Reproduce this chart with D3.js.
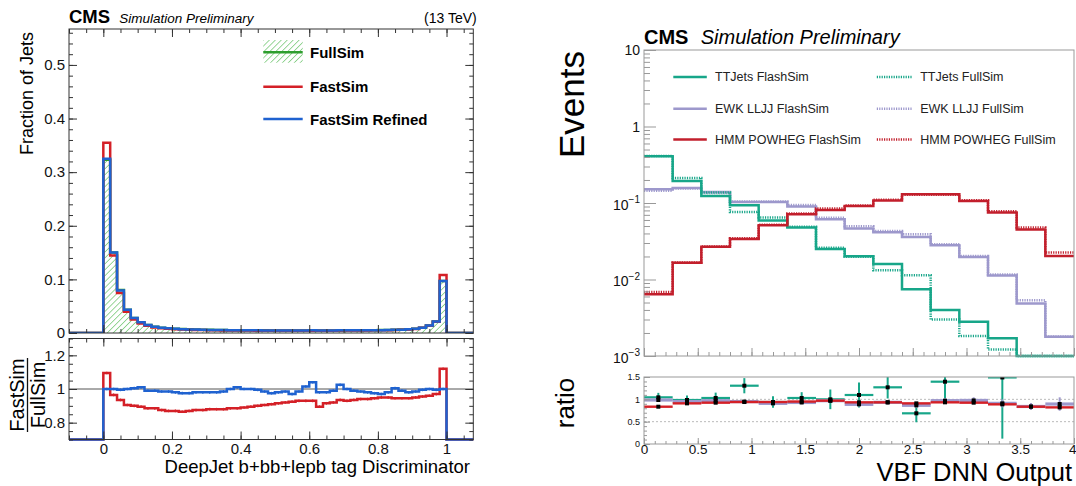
<!DOCTYPE html>
<html>
<head>
<meta charset="utf-8">
<script src="https://cdn.jsdelivr.net/npm/d3@7"></script>
<style>
  body { margin: 0; background: #fff; }
  svg { display: block; }
  text { font-family: "Liberation Sans", Arial, Helvetica, sans-serif; }
</style>
</head>
<body>
<svg id="chart" width="1076" height="486"></svg>
<script>
////////////////////////////////////////////////////////////////////////
// Data, left panel: DeepJet discriminator, 50 bins of 0.02 from 0 to 1

const discEdges = d3.range(0, 51).map(i => i / 50);

const fullSimFrac = [
  0.323, 0.150, 0.080, 0.0435, 0.028, 0.0198, 0.015, 0.0118, 0.0099, 0.0088,
  0.0080, 0.0074, 0.0069, 0.0065, 0.0062, 0.0059, 0.0057, 0.0055, 0.0053, 0.0052,
  0.0051, 0.0050, 0.0049, 0.0049, 0.0048, 0.0048, 0.0047, 0.0047, 0.0047, 0.0047,
  0.0047, 0.0047, 0.0047, 0.0048, 0.0048, 0.0049, 0.0049, 0.0050, 0.0051, 0.0052,
  0.0054, 0.0056, 0.0059, 0.0063, 0.0069, 0.0080, 0.0100, 0.0140, 0.0215, 0.097
];
const fastSimFrac = [
  0.355, 0.1445, 0.0747, 0.0395, 0.025, 0.0178, 0.0133, 0.0104, 0.0087, 0.0077,
  0.0070, 0.0064, 0.0060, 0.0057, 0.0054, 0.0052, 0.0050, 0.0048, 0.0047, 0.0046,
  0.0045, 0.0045, 0.0044, 0.0044, 0.0044, 0.0044, 0.0043, 0.0043, 0.0044, 0.0044,
  0.0044, 0.0042, 0.0043, 0.0044, 0.0045, 0.0046, 0.0046, 0.0047, 0.0048, 0.0049,
  0.0051, 0.0053, 0.0056, 0.0060, 0.0065, 0.0076, 0.0096, 0.0134, 0.0209, 0.108
];
const refinedFrac = [
  0.325, 0.150, 0.0795, 0.0435, 0.0282, 0.020, 0.0149, 0.0117, 0.0098, 0.0087,
  0.0078, 0.0072, 0.0067, 0.0064, 0.0061, 0.0058, 0.0056, 0.0054, 0.0053, 0.0053,
  0.0051, 0.0050, 0.0049, 0.0048, 0.0047, 0.0047, 0.0046, 0.0046, 0.0046, 0.0048,
  0.0049, 0.0046, 0.0046, 0.0048, 0.0049, 0.0049, 0.0049, 0.0049, 0.0050, 0.0051,
  0.0052, 0.0055, 0.0059, 0.0062, 0.0068, 0.0079, 0.0100, 0.0140, 0.0214, 0.097
];

// ratio panel (FastSim / FullSim)
const fastRatio = [
  1.095, 0.965, 0.935, 0.905, 0.900, 0.895, 0.885, 0.885, 0.875, 0.870,
  0.870, 0.865, 0.870, 0.875, 0.875, 0.880, 0.880, 0.880, 0.885, 0.885,
  0.890, 0.895, 0.900, 0.905, 0.910, 0.915, 0.920, 0.925, 0.930, 0.930,
  0.930, 0.895, 0.915, 0.920, 0.935, 0.930, 0.935, 0.940, 0.940, 0.945,
  0.950, 0.950, 0.945, 0.945, 0.945, 0.950, 0.955, 0.960, 0.970, 1.120
];
const refinedRatio = [
  1.000, 1.000, 0.995, 1.000, 1.005, 1.010, 0.990, 0.990, 0.985, 0.985,
  0.980, 0.975, 0.975, 0.980, 0.980, 0.980, 0.980, 0.985, 1.000, 1.010,
  1.000, 1.000, 0.995, 0.985, 0.975, 0.980, 0.985, 0.970, 0.985, 1.015,
  1.040, 0.980, 0.980, 0.990, 1.025, 1.000, 0.990, 0.985, 0.980, 0.975,
  0.970, 0.980, 1.005, 0.990, 0.980, 0.985, 0.995, 1.000, 0.995, 1.000
];

const leftYTicks = [0, 0.1, 0.2, 0.3, 0.4, 0.5];
const leftXTicks = [0, 0.2, 0.4, 0.6, 0.8, 1];
const leftRatioTicks = [0.8, 1, 1.2];
const leftLegend = ["FullSim", "FastSim", "FastSim Refined"];

////////////////////////////////////////////////////////////////////////
// Data, right panel: VBF DNN output, 15 bins from 0 to 4

const dnnEdges = d3.range(0, 16).map(i => i * 4 / 15);

const ttFlash  = [0.407, 0.194, 0.123, 0.0933, 0.0589, 0.0477, 0.0251, 0.0201, 0.0159, 0.00747, 0.00398, 0.0028, 0.0017, 0.0009, 0.0009];
const ttFull   = [0.410, 0.212, 0.137, 0.0763, 0.0645, 0.049, 0.026, 0.0199, 0.0132, 0.0114, 0.0030, 0.00182, 0.00122, 0.0005, 0.0005];
const ewkFlash = [0.151, 0.157, 0.139, 0.103, 0.103, 0.0897, 0.0612, 0.0463, 0.0415, 0.036, 0.028, 0.0197, 0.0113, 0.00486, 0.00178];
const ewkFull  = [0.145, 0.155, 0.135, 0.105, 0.105, 0.094, 0.064, 0.0497, 0.043, 0.039, 0.029, 0.0203, 0.0116, 0.00537, 0.0018];
const hmmFlash = [0.00643, 0.0165, 0.0267, 0.0339, 0.0512, 0.0712, 0.081, 0.0914, 0.108, 0.130, 0.130, 0.106, 0.0749, 0.045, 0.0203];
const hmmFull  = [0.00689, 0.0167, 0.0270, 0.0345, 0.052, 0.073, 0.085, 0.093, 0.110, 0.128, 0.128, 0.109, 0.078, 0.048, 0.0225];

// ratio panel (null = outside the drawn range)
const ttRatio   = [1.045, 0.985, 1.03, 1.305, 0.94, 1.03, 1.0, 1.097, 1.269, 0.687, 1.395, null, 1.49, null, null];
const ttErr     = [0.10, 0.10, 0.12, 0.17, 0.13, 0.13, 0.22, 0.28, 0.25, 0.20, 0.45, null, 1.37, null, null];
const ewkRatio  = [0.985, 0.95, 0.97, 0.95, 0.91, 0.93, 0.97, 0.888, 0.933, 0.866, 0.97, 0.975, 0.91, 0.84, 0.895];
const ewkErr    = [0.03, 0.03, 0.03, 0.03, 0.04, 0.04, 0.04, 0.05, 0.05, 0.06, 0.06, 0.07, 0.09, 0.08, 0.15];
const hmmRatio  = [0.835, 0.91, 0.925, 0.94, 0.94, 0.95, 0.97, 0.933, 0.933, 0.91, 0.933, 0.925, 0.888, 0.835, 0.82];
const hmmErr    = [0.02, 0.02, 0.02, 0.02, 0.02, 0.02, 0.02, 0.02, 0.02, 0.02, 0.02, 0.02, 0.03, 0.03, 0.04];

const logTicks   = [1e-3, 1e-2, 1e-1, 1, 10];
const logBase    = ["10", "10", "10", "1", "10"];
const logExp     = ["\u22123", "\u22122", "\u22121", null, null];
const dnnXTicks  = [0, 0.5, 1, 1.5, 2, 2.5, 3, 3.5, 4];
const dnnRatioTicks = [0, 0.5, 1, 1.5];
const rightLegend = [
  ["TTJets FlashSim", "TTJets FullSim"],
  ["EWK LLJJ FlashSim", "EWK LLJJ FullSim"],
  ["HMM POWHEG FlashSim", "HMM POWHEG FullSim"]
];

////////////////////////////////////////////////////////////////////////
// Helpers

const svg = d3.select("#chart");
const defs = svg.append("defs");

const cRed = "#d42027", cBlue = "#1f62d0", cGreen = "#2e9e2e";
const cTeal = "#17a689", cPurple = "#9d98cc", cDark = "#c21f2c";

function stepPoints(edges, vals) {
  const pts = [];
  vals.forEach((v, i) => { pts.push([edges[i], v], [edges[i + 1], v]); });
  return pts;
}

function cleanAxis(g, color, size) {
  g.select(".domain").remove();
  g.selectAll(".tick line").attr("stroke", color);
  g.selectAll(".tick text").attr("fill", "#111").attr("font-size", size)
    .attr("font-family", '"Liberation Sans", Arial, sans-serif');
  g.attr("font-family", null).attr("font-size", null);
}

////////////////////////////////////////////////////////////////////////
// Left panel

const xL = d3.scaleLinear().domain([-0.1, 1.078]).range([69, 473.3]);
const yTop = d3.scaleLinear().domain([0, 0.567]).range([333, 29]);
const yRat = d3.scaleLinear().domain([0.7, 1.3]).range([439.5, 338.5]).clamp(true);

const hatch = defs.append("pattern")
  .attr("id", "hatch").attr("patternUnits", "userSpaceOnUse")
  .attr("width", 4.2).attr("height", 4.2)
  .attr("patternTransform", "rotate(45)");
hatch.append("line").attr("x1", 0).attr("y1", 0).attr("x2", 0).attr("y2", 4.2)
  .attr("stroke", "#55bb55").attr("stroke-width", 1.2);

defs.append("clipPath").attr("id", "clipTop").append("rect")
  .attr("x", 69).attr("y", 29).attr("width", 404.3).attr("height", 304);

const topPad = svg.append("g");

// hatched FullSim
const fullPts = stepPoints(discEdges, fullSimFrac);
topPad.append("path")
  .datum(fullPts)
  .attr("fill", "url(#hatch)")
  .attr("d", d3.area().x(d => xL(d[0])).y0(yTop(0)).y1(d => yTop(d[1])));

const lineTop = d3.line().x(d => xL(d[0])).y(d => yTop(d[1]));
function padded(pts) { return [[-0.1, 0], [0, 0]].concat(pts, [[1, 0], [1.078, 0]]); }

[[fullSimFrac, cGreen], [fastSimFrac, cRed], [refinedFrac, cBlue]].forEach(([vals, col]) => {
  topPad.append("path")
    .datum(padded(stepPoints(discEdges, vals)))
    .attr("fill", "none").attr("stroke", col).attr("stroke-width", 2.5)
    .attr("clip-path", "url(#clipTop)")
    .attr("d", lineTop);
});

// frame + ticks
const frameCol = "#333";
topPad.append("rect").attr("x", 69).attr("y", 29).attr("width", 404.3).attr("height", 304)
  .attr("fill", "none").attr("stroke", frameCol);

const topMinorY = d3.range(0, 29).map(i => i * 0.02);
const minorXL = d3.range(-2, 22).map(i => i * 0.05);

topPad.append("g").attr("transform", "translate(69,0)")
  .call(d3.axisLeft(yTop).tickValues(leftYTicks).tickSize(-8).tickPadding(4).tickFormat(d3.format("~g")))
  .call(g => cleanAxis(g, frameCol, 15));
topPad.append("g").attr("transform", "translate(69,0)")
  .call(d3.axisLeft(yTop).tickValues(topMinorY).tickSize(-4).tickFormat(""))
  .call(g => cleanAxis(g, frameCol, 15));
topPad.append("g").attr("transform", "translate(473.3,0)")
  .call(d3.axisRight(yTop).tickValues(leftYTicks).tickSize(-8).tickFormat(""))
  .call(g => cleanAxis(g, frameCol, 15));
topPad.append("g").attr("transform", "translate(473.3,0)")
  .call(d3.axisRight(yTop).tickValues(topMinorY).tickSize(-4).tickFormat(""))
  .call(g => cleanAxis(g, frameCol, 15));
[[333, d3.axisBottom], [29, d3.axisTop]].forEach(([yy, ax]) => {
  topPad.append("g").attr("transform", `translate(0,${yy})`)
    .call(ax(xL).tickValues(leftXTicks).tickSize(-8).tickFormat(""))
    .call(g => cleanAxis(g, frameCol, 15));
  topPad.append("g").attr("transform", `translate(0,${yy})`)
    .call(ax(xL).tickValues(minorXL).tickSize(-4).tickFormat(""))
    .call(g => cleanAxis(g, frameCol, 15));
});

// titles
topPad.append("text").attr("x", 69).attr("y", 22.7)
  .attr("font-size", 18.5).attr("font-weight", "bold").text("CMS");
topPad.append("text").attr("x", 119.3).attr("y", 22.7)
  .attr("font-size", 13.5).attr("font-style", "italic").text("Simulation Preliminary");
topPad.append("text").attr("x", 476.7).attr("y", 22.7).attr("text-anchor", "end")
  .attr("font-size", 14).text("(13 TeV)");
topPad.append("text").attr("transform", "translate(33,32) rotate(-90)")
  .attr("text-anchor", "end").attr("font-size", 18).text("Fraction of Jets");

// legend
const legL = topPad.append("g");
legL.append("rect").attr("x", 263.3).attr("y", 40).attr("width", 39.4).attr("height", 22.7)
  .attr("fill", "url(#hatch)");
[[52.3, cGreen], [86.7, cRed], [119, cBlue]].forEach(([yy, col], i) => {
  legL.append("line").attr("x1", 263.3).attr("x2", 302.7).attr("y1", yy).attr("y2", yy)
    .attr("stroke", col).attr("stroke-width", 2.5);
  legL.append("text").attr("x", 310).attr("y", yy + 5.5)
    .attr("font-size", 15).attr("font-weight", "bold").text(leftLegend[i]);
});

// ratio pad
const rat = svg.append("g");
const lineRat = d3.line().x(d => xL(d[0])).y(d => yRat(d[1]));

rat.append("line").attr("x1", 69).attr("x2", 473.3)
  .attr("y1", yRat(1)).attr("y2", yRat(1)).attr("stroke", "#555").attr("stroke-width", 1);

[[fastRatio, cRed], [refinedRatio, cBlue]].forEach(([vals, col]) => {
  rat.append("path")
    .datum(padded(stepPoints(discEdges, vals)))
    .attr("fill", "none").attr("stroke", col).attr("stroke-width", 2.5)
    .attr("d", lineRat);
  rat.append("g").selectAll("line").data(vals).join("line")
    .attr("x1", (d, i) => xL((discEdges[i] + discEdges[i + 1]) / 2))
    .attr("x2", (d, i) => xL((discEdges[i] + discEdges[i + 1]) / 2))
    .attr("y1", d => yRat(d - 0.008)).attr("y2", d => yRat(d + 0.008))
    .attr("stroke", col).attr("stroke-width", 1.2);
});

rat.append("rect").attr("x", 69).attr("y", 338.5).attr("width", 404.3).attr("height", 101)
  .attr("fill", "none").attr("stroke", frameCol);

const ratMinorY = d3.range(14, 27).map(i => i * 0.05);
rat.append("g").attr("transform", "translate(69,0)")
  .call(d3.axisLeft(yRat).tickValues(leftRatioTicks).tickSize(-8).tickPadding(4).tickFormat(d3.format("~g")))
  .call(g => cleanAxis(g, frameCol, 15));
rat.append("g").attr("transform", "translate(69,0)")
  .call(d3.axisLeft(yRat).tickValues(ratMinorY).tickSize(-4).tickFormat(""))
  .call(g => cleanAxis(g, frameCol, 15));
rat.append("g").attr("transform", "translate(473.3,0)")
  .call(d3.axisRight(yRat).tickValues(leftRatioTicks).tickSize(-8).tickFormat(""))
  .call(g => cleanAxis(g, frameCol, 15));
rat.append("g").attr("transform", "translate(473.3,0)")
  .call(d3.axisRight(yRat).tickValues(ratMinorY).tickSize(-4).tickFormat(""))
  .call(g => cleanAxis(g, frameCol, 15));
rat.append("g").attr("transform", "translate(0,439.5)")
  .call(d3.axisBottom(xL).tickValues(leftXTicks).tickSize(-8).tickPadding(4).tickFormat(d3.format("~g")))
  .call(g => cleanAxis(g, frameCol, 15));
rat.append("g").attr("transform", "translate(0,439.5)")
  .call(d3.axisBottom(xL).tickValues(minorXL).tickSize(-4).tickFormat(""))
  .call(g => cleanAxis(g, frameCol, 15));
rat.append("g").attr("transform", "translate(0,338.5)")
  .call(d3.axisTop(xL).tickValues(leftXTicks).tickSize(-8).tickFormat(""))
  .call(g => cleanAxis(g, frameCol, 15));
rat.append("g").attr("transform", "translate(0,338.5)")
  .call(d3.axisTop(xL).tickValues(minorXL).tickSize(-4).tickFormat(""))
  .call(g => cleanAxis(g, frameCol, 15));

rat.append("text").attr("x", 470).attr("y", 473).attr("text-anchor", "end")
  .attr("font-size", 18.5).text("DeepJet b+bb+lepb tag Discriminator");

const frac = rat.append("g").attr("transform", "translate(27,395) rotate(-90)");
frac.append("text").attr("x", 0).attr("y", -3).attr("text-anchor", "middle")
  .attr("font-size", 20).text("FastSim");
frac.append("line").attr("x1", -37).attr("x2", 37).attr("y1", 0.5).attr("y2", 0.5)
  .attr("stroke", "#111").attr("stroke-width", 1.3);
frac.append("text").attr("x", 0).attr("y", 18).attr("text-anchor", "middle")
  .attr("font-size", 20).text("FullSim");

////////////////////////////////////////////////////////////////////////
// Right panel

const xR = d3.scaleLinear().domain([0, 4]).range([644, 1074]);
const yLog = d3.scaleLog().domain([1e-3, 10]).range([356, 50]).clamp(true);
const yR2 = d3.scaleLinear().domain([0, 1.5]).range([444, 377]);
const greyR = "#999";

const rtop = svg.append("g");
const lineLog = d3.line().x(d => xR(d[0])).y(d => yLog(d[1]));

[[ewkFlash, ewkFull, cPurple], [ttFlash, ttFull, cTeal], [hmmFlash, hmmFull, cDark]].forEach(([fl, fu, col]) => {
  rtop.append("path").datum(stepPoints(dnnEdges, fl))
    .attr("fill", "none").attr("stroke", col).attr("stroke-width", 2.5).attr("d", lineLog);
  rtop.append("path").datum(stepPoints(dnnEdges, fu))
    .attr("fill", "none").attr("stroke", col).attr("stroke-width", 2.5)
    .attr("stroke-dasharray", "1.2,1.2").attr("d", lineLog);
});

rtop.append("rect").attr("x", 644).attr("y", 50).attr("width", 430).attr("height", 306)
  .attr("fill", "none").attr("stroke", greyR);

const logMinor = [];
[-3, -2, -1, 0].forEach(k => d3.range(2, 10).forEach(m => logMinor.push(m * Math.pow(10, k))));

rtop.append("g").attr("transform", "translate(644,0)")
  .call(d3.axisLeft(yLog).tickValues(logTicks).tickSize(-12).tickFormat(""))
  .call(g => cleanAxis(g, greyR, 14));
rtop.append("g").attr("transform", "translate(644,0)")
  .call(d3.axisLeft(yLog).tickValues(logMinor).tickSize(-6).tickFormat(""))
  .call(g => cleanAxis(g, greyR, 14));

const logLab = rtop.append("g").selectAll("text").data(logTicks).join("text")
  .attr("x", 640).attr("y", (d, i) => yLog(d) + (logExp[i] ? 6.5 : 5))
  .attr("text-anchor", "end").attr("font-size", 14).attr("fill", "#111");
logLab.append("tspan").text((d, i) => logBase[i]);
logLab.filter((d, i) => logExp[i] != null).append("tspan")
  .attr("dy", -6.5).attr("font-size", 10).text(d => logExp[logTicks.indexOf(d)]);

const dnnMinor = d3.range(0, 41).map(i => i / 10);
rtop.append("g").attr("transform", "translate(0,356)")
  .call(d3.axisBottom(xR).tickValues(dnnXTicks).tickSize(-8).tickFormat(""))
  .call(g => cleanAxis(g, greyR, 14));
rtop.append("g").attr("transform", "translate(0,356)")
  .call(d3.axisBottom(xR).tickValues(dnnMinor).tickSize(-4).tickFormat(""))
  .call(g => cleanAxis(g, greyR, 14));

rtop.append("text").attr("x", 644).attr("y", 44.4)
  .attr("font-size", 20).attr("font-weight", "bold").text("CMS");
rtop.append("text").attr("x", 700.7).attr("y", 44.4)
  .attr("font-size", 20).attr("font-style", "italic").text("Simulation Preliminary");
rtop.append("text").attr("transform", "translate(584.4,51) rotate(-90)")
  .attr("text-anchor", "end").attr("font-size", 35).text("Events");

// legend
const legCols = [cTeal, cPurple, cDark];
const legRows = [76.9, 108.7, 139.5];
rightLegend.forEach((pair, r) => {
  [[673.3, 706.8, 715, null], [876.8, 912.6, 920.2, "1.2,1.2"]].forEach(([x1, x2, tx, dash], c) => {
    rtop.append("line").attr("x1", x1).attr("x2", x2)
      .attr("y1", legRows[r]).attr("y2", legRows[r])
      .attr("stroke", legCols[r]).attr("stroke-width", 2.5)
      .attr("stroke-dasharray", dash);
    rtop.append("text").attr("x", tx).attr("y", legRows[r] + 4.5)
      .attr("font-size", 12.5).attr("fill", "#222").text(pair[c]);
  });
});

// ratio pad
const rr = svg.append("g");
defs.append("clipPath").attr("id", "clipR2").append("rect")
  .attr("x", 644).attr("y", 377).attr("width", 430).attr("height", 67);

[0.5, 1].forEach(v => {
  rr.append("line").attr("x1", 644).attr("x2", 1074).attr("y1", yR2(v)).attr("y2", yR2(v))
    .attr("stroke", "#bbb").attr("stroke-dasharray", "2,2");
});

const crosses = rr.append("g").attr("clip-path", "url(#clipR2)");
[[ttRatio, ttErr, cTeal, 2.2], [ewkRatio, ewkErr, cPurple, 3.2], [hmmRatio, hmmErr, cRed, 2.4]].forEach(([vals, errs, col, w]) => {
  vals.forEach((v, i) => {
    if (v == null) return;
    const xc = xR((dnnEdges[i] + dnnEdges[i + 1]) / 2);
    crosses.append("line").attr("x1", xR(dnnEdges[i])).attr("x2", xR(dnnEdges[i + 1]))
      .attr("y1", yR2(v)).attr("y2", yR2(v)).attr("stroke", col).attr("stroke-width", w);
    crosses.append("line").attr("x1", xc).attr("x2", xc)
      .attr("y1", yR2(v - errs[i])).attr("y2", yR2(v + errs[i]))
      .attr("stroke", col).attr("stroke-width", 2);
  });
});
[ttRatio, ewkRatio, hmmRatio].forEach(vals => {
  crosses.append("g").selectAll("rect").data(vals.map((v, i) => [v, i]).filter(d => d[0] != null))
    .join("rect")
    .attr("x", d => xR((dnnEdges[d[1]] + dnnEdges[d[1] + 1]) / 2) - 2)
    .attr("y", d => yR2(d[0]) - 2)
    .attr("width", 4).attr("height", 4).attr("fill", "#000");
});

rr.append("rect").attr("x", 644).attr("y", 377).attr("width", 430).attr("height", 67)
  .attr("fill", "none").attr("stroke", greyR);

rr.append("g").attr("transform", "translate(644,0)")
  .call(d3.axisLeft(yR2).tickValues(dnnRatioTicks).tickSize(-6).tickPadding(4).tickFormat(d3.format("~g")))
  .call(g => cleanAxis(g, greyR, 9));
rr.append("g").attr("transform", "translate(644,0)")
  .call(d3.axisLeft(yR2).tickValues(d3.range(0, 16).map(i => i / 10)).tickSize(-3).tickFormat(""))
  .call(g => cleanAxis(g, greyR, 9));
rr.append("g").attr("transform", "translate(0,444)")
  .call(d3.axisBottom(xR).tickValues(dnnXTicks).tickSize(-6).tickPadding(0.5).tickFormat(d3.format("~g")))
  .call(g => cleanAxis(g, greyR, 13.5))
  .call(g => g.selectAll(".tick text").filter(d => d === 4).attr("text-anchor", "end").attr("x", 2));
rr.append("g").attr("transform", "translate(0,444)")
  .call(d3.axisBottom(xR).tickValues(dnnMinor).tickSize(-3).tickFormat(""))
  .call(g => cleanAxis(g, greyR, 14));

rr.append("text").attr("x", 1072).attr("y", 481).attr("text-anchor", "end")
  .attr("font-size", 25.5).text("VBF DNN Output");
rr.append("text").attr("transform", "translate(574,403) rotate(-90)")
  .attr("text-anchor", "middle").attr("font-size", 26).text("ratio");
</script>
</body>
</html>
